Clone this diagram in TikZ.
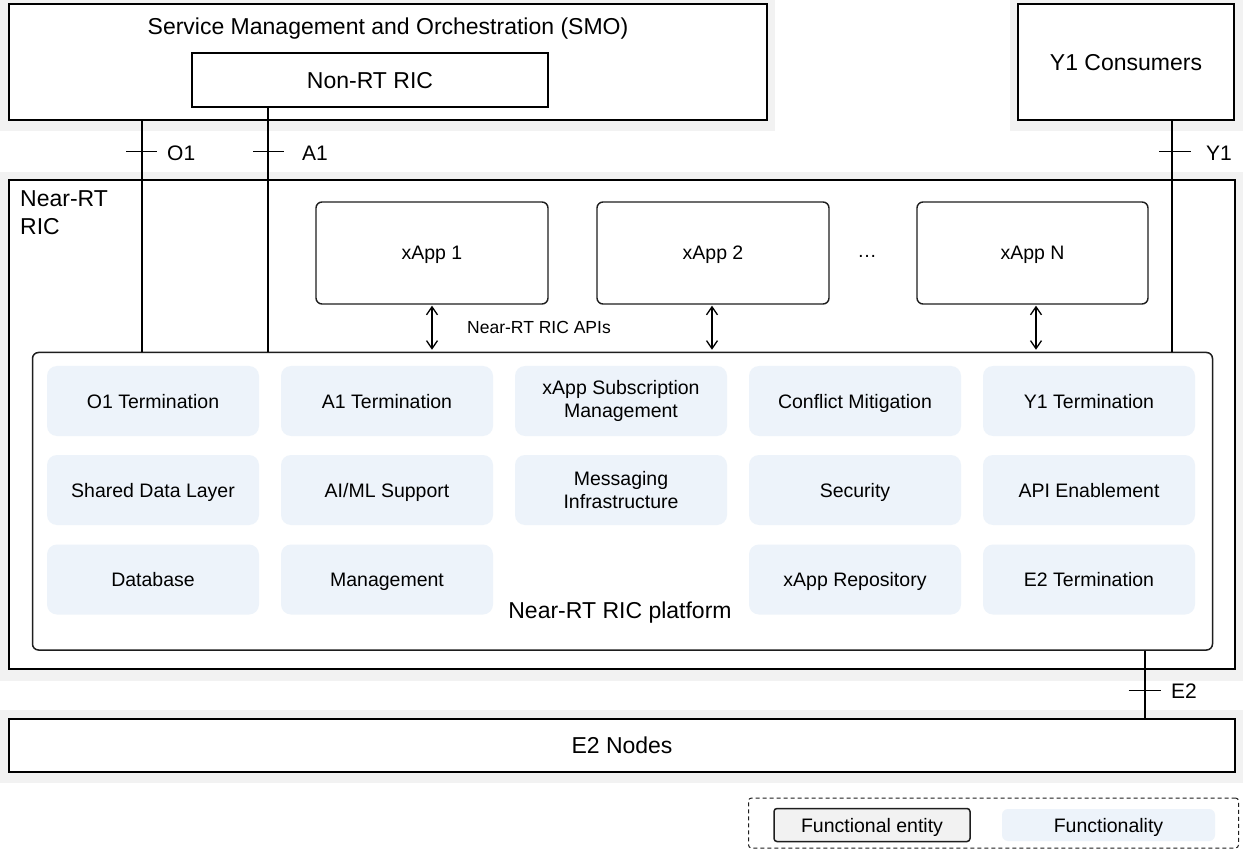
\documentclass[tikz,border=0pt]{standalone}
\usepackage{fontspec}
\setmainfont{Liberation Sans}
\usetikzlibrary{arrows.meta,calc}
\definecolor{bandgray}{RGB}{242,242,242}
\definecolor{funcblue}{RGB}{237,243,250}
\definecolor{darkline}{RGB}{30,30,30}
\definecolor{legendgray}{RGB}{242,242,242}
\begin{document}
\begin{tikzpicture}[x=1pt,y=-1pt,
  band/.style={fill=bandgray,draw=none},
  big/.style={font=\fontsize{23}{28}\selectfont},
  small/.style={font=\fontsize{19.5}{23}\selectfont},
  capbig/.style={text height=16.5pt,text depth=0pt},
  capsmall/.style={text height=14pt,text depth=0pt},
  entity/.style={draw=black,line width=2.6pt,fill=white,inner sep=0pt,big,capbig},
  xapp/.style={draw=darkline,line width=1.4pt,rounded corners=6pt,fill=white,minimum width=232pt,minimum height=102pt,inner sep=0pt,small,capsmall},
  func/.style={fill=funcblue,rounded corners=10pt,minimum width=212pt,minimum height=70pt,inner sep=0pt,align=center,small},
  plat/.style={draw=darkline,line width=1.5pt,rounded corners=6pt,fill=white,inner sep=0pt},
  ifthick/.style={line width=2.7pt},
  ifthin/.style={line width=2pt},
  tick/.style={line width=1pt},
  lbl/.style={anchor=west,inner sep=0pt,font=\fontsize{21}{25}\selectfont},
  api/.style={line width=1.3pt,shorten <=1pt,shorten >=2pt,{Straight Barb[length=8pt,width=11pt]}-{Straight Barb[length=8pt,width=11pt]}},
]
\useasboundingbox (0,0) rectangle (1243,850);
\fill[white] (0,0) rectangle (1243,850);

% background bands
\fill[band] (0,0) rectangle (775,131);
\fill[band] (1010,0) rectangle (1243,131);
\fill[band] (0,172.5) rectangle (1243,680.5);
\fill[band] (0,710) rectangle (1243,782.5);

% SMO
\node[entity,minimum width=758pt,minimum height=116pt] (smo) at (388,62) {};
\node[big,capbig,inner sep=0pt] (smot) at (388,26) {Service Management and Orchestration (SMO)};
\node[entity,minimum width=356pt,minimum height=54pt] (nonrt) at (370,80) {Non-RT RIC};

% Y1 consumers
\node[entity,minimum width=216pt,minimum height=116pt] (y1c) at (1126,62) {Y1 Consumers};

% Near-RT RIC
\node[entity,minimum width=1226pt,minimum height=489pt] (ric) at (622,424.5) {};
\node[big,anchor=north west,align=left,inner sep=0pt] (ricl) at (20,190) {Near-RT\\RIC};

% xApps
\node[xapp] (xa1) at (432,253) {xApp 1};
\node[xapp] (xa2) at (713,253) {xApp 2};
\node[xapp,minimum width=231pt] (xan) at (1032.5,253) {xApp N};
\node[small,inner sep=0pt] (dots) at (867,256) {…};

% platform
\node[plat,minimum width=1180pt,minimum height=297.5pt] (plat) at (622.5,501.25) {};
\node[big,capbig,inner sep=0pt] (platl) at (620,610) {Near-RT RIC platform};

% functionalities
\node[func,capsmall] (f11) at (153,401) {O1 Termination};
\node[func,capsmall] (f12) at (387,401) {A1 Termination};
\node[func] (f13) at (621,401) {xApp Subscription\\Management};
\node[func,capsmall] (f14) at (855,401) {Conflict Mitigation};
\node[func,capsmall] (f15) at (1089,401) {Y1 Termination};
\node[func,capsmall] (f21) at (153,490) {Shared Data Layer};
\node[func,capsmall] (f22) at (387,490) {AI/ML Support};
\node[func] (f23) at (621,490) {Messaging\\Infrastructure};
\node[func,capsmall] (f24) at (855,490) {Security};
\node[func,capsmall] (f25) at (1089,490) {API Enablement};
\node[func,capsmall] (f31) at (153,579.5) {Database};
\node[func,capsmall] (f32) at (387,579.5) {Management};
\node[func,capsmall] (f34) at (855,579.5) {xApp Repository};
\node[func,capsmall] (f35) at (1089,579.5) {E2 Termination};

% E2 nodes
\node[entity,minimum width=1226pt,minimum height=53pt] (e2n) at (622,745.5) {E2 Nodes};

% interfaces
\coordinate (o1x) at (142,0);
\coordinate (a1x) at (268,0);
\coordinate (y1x) at (1172,0);
\coordinate (e2x) at (1144.5,0);
\draw[ifthick] (o1x |- smo.south) -- (o1x |- plat.north);
\draw[ifthick] (a1x |- nonrt.south) -- (a1x |- plat.north);
\draw[ifthin] (y1x |- y1c.south) -- (y1x |- plat.north);
\draw[ifthin] (e2x |- plat.south) -- (e2x |- e2n.north);

\coordinate (o1t) at (142,152);
\coordinate (a1t) at (268,152);
\coordinate (y1t) at (1172,152);
\coordinate (e2t) at (1144.5,690);
\draw[tick] ([xshift=-16pt]o1t) -- ([xshift=15pt]o1t);
\draw[tick] ([xshift=-15pt]a1t) -- ([xshift=16pt]a1t);
\draw[tick] ([xshift=-13pt]y1t) -- ([xshift=19pt]y1t);
\draw[tick] ([xshift=-16pt]e2t) -- ([xshift=16pt]e2t);
\node[lbl] (o1l) at (167,153) {O1};
\node[lbl] (a1l) at (302,153) {A1};
\node[lbl] (y1l) at (1206,153) {Y1};
\node[lbl] (e2l) at (1171,691) {E2};

% API arrows
\draw[api] (xa1.south) -- (xa1.south |- plat.north);
\draw[api] ([xshift=-1pt]xa2.south) -- ([xshift=-1pt]xa2.south |- plat.north);
\draw[api] ([xshift=3.5pt]xan.south) -- ([xshift=3.5pt]xan.south |- plat.north);
\node[inner sep=0pt,font=\fontsize{17.5}{21}\selectfont] (apil) at (539,327) {Near-RT RIC APIs};

% legend
\node[draw=darkline,dashed,dash pattern=on 4pt off 3pt,line width=1pt,rounded corners=3pt,minimum width=490pt,minimum height=50pt,inner sep=0pt] (leg) at (993.5,823) {};
\node[draw=darkline,fill=legendgray,line width=1.5pt,rounded corners=3pt,minimum width=196pt,minimum height=33pt,inner sep=0pt,small,capsmall] (legent) at (872,825) {Functional entity};
\node[fill=funcblue,rounded corners=6pt,minimum width=213pt,minimum height=32pt,inner sep=0pt,small,capsmall] (legfun) at (1108.5,825) {Functionality};
\end{tikzpicture}
\end{document}
